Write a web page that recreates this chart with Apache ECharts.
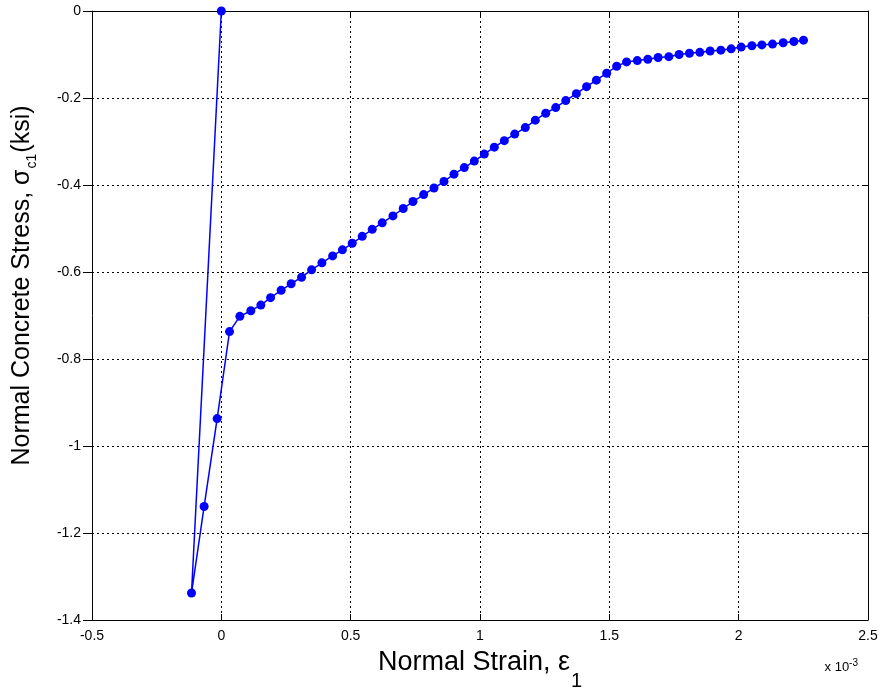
<!DOCTYPE html>
<html>
<head>
<meta charset="utf-8">
<script src="https://cdn.jsdelivr.net/npm/echarts@6/dist/echarts.min.js"></script>
<style>
  html, body { margin: 0; padding: 0; background: #fff; }
  #chart { width: 886px; height: 692px; }
</style>
</head>
<body>
<div id="chart"></div>
<script>
// Normal strain (x 10^-3) and the matching concrete stress (ksi)
const strain = [
  0, -0.1153, -0.0665, -0.0162, 0.0317, 0.0716, 0.1141, 0.1528, 0.1903, 0.2313,
  0.2700, 0.3102, 0.3489, 0.3888, 0.4302, 0.4681, 0.5060, 0.5447, 0.5834, 0.6220,
  0.6634, 0.7033, 0.7408, 0.7822, 0.8221, 0.8607, 0.8994, 0.9393, 0.9780, 1.0166,
  1.0553, 1.0940, 1.1342, 1.1752, 1.2139, 1.2541, 1.2928, 1.3315, 1.3725, 1.4120,
  1.4499, 1.4898, 1.5284, 1.5667, 1.6081, 1.6487, 1.6886, 1.7300, 1.7698, 1.8097,
  1.8499, 1.8897, 1.9311, 1.9710, 2.0097, 2.0511, 2.0897, 2.1308, 2.1721, 2.2135,
  2.2507
];
const stress = [
  0, -1.338, -1.139, -0.937, -0.737, -0.702, -0.689, -0.676, -0.659, -0.642,
  -0.627, -0.612, -0.595, -0.579, -0.563, -0.549, -0.534, -0.518, -0.502, -0.487,
  -0.471, -0.454, -0.438, -0.422, -0.407, -0.392, -0.375, -0.360, -0.345, -0.329,
  -0.313, -0.298, -0.283, -0.268, -0.251, -0.235, -0.222, -0.206, -0.190, -0.174,
  -0.159, -0.143, -0.127, -0.117, -0.114, -0.111, -0.107, -0.105, -0.100, -0.097,
  -0.095, -0.092, -0.090, -0.087, -0.083, -0.080, -0.078, -0.076, -0.073, -0.070,
  -0.067
];
const xTicks = { min: -0.5, max: 2.5, step: 0.5 };
const yTicks = { min: -1.4, max: 0, step: 0.2 };

const points = strain.map((s, i) => [s, stress[i]]);
const fmt = v => String(+v.toFixed(1));
const font = '"Liberation Sans", Arial, sans-serif';

const gridLine = { show: true, lineStyle: { color: '#000', type: [2, 3], width: 1 } };
const tickIn = { show: true, inside: true, length: 6, lineStyle: { color: '#000', width: 1 } };
const tickOut = { show: true, inside: false, length: 9, lineStyle: { color: '#000', width: 1 } };
const frameLine = { show: true, onZero: false, lineStyle: { color: '#000', width: 1 } };

// main title text sits at the top of its line, the subscript at the bottom
const mainRich = size => ({ fontFamily: font, fontSize: size, color: '#000', verticalAlign: 'top', height: size + 3, lineHeight: size + 3 });

const chart = echarts.init(document.getElementById('chart'), null, { renderer: 'canvas' });
chart.setOption({
  animation: false,
  backgroundColor: '#fff',
  grid: { left: 92, right: 18, top: 11, bottom: 72, outerBoundsMode: 'none', containLabel: false },
  xAxis: [{
    type: 'value', min: xTicks.min, max: xTicks.max, interval: xTicks.step,
    axisLine: frameLine,
    axisTick: tickIn,
    splitLine: gridLine,
    axisLabel: { color: '#000', fontFamily: font, fontSize: 14, margin: 9, formatter: fmt },
    name: '{a|Normal Strain, ε}{s|1}',
    nameLocation: 'middle', nameGap: 28, nameMoveOverlap: false,
    nameTextStyle: {
      rich: {
        a: mainRich(27),
        s: { fontFamily: font, fontSize: 20, color: '#000', verticalAlign: 'bottom', height: 20, padding: [23, 0, 0, 1] }
      }
    }
  }, {
    type: 'value', position: 'top', min: xTicks.min, max: xTicks.max, interval: xTicks.step,
    axisLine: frameLine,
    axisTick: tickIn, axisLabel: { show: false }, splitLine: { show: false }
  }],
  yAxis: [{
    type: 'value', min: yTicks.min, max: yTicks.max, interval: yTicks.step,
    axisLine: frameLine,
    axisTick: tickOut,
    splitLine: gridLine,
    axisLabel: { color: '#000', fontFamily: font, fontSize: 14, margin: 11, formatter: fmt },
    name: '{a|Normal Concrete Stress, σ}{s|c1}{a|(ksi)}',
    nameLocation: 'middle', nameRotate: 90, nameGap: 53, nameMoveOverlap: false,
    nameTextStyle: {
      padding: [0, 0, 0, 60],
      rich: {
        a: mainRich(25),
        s: { fontFamily: font, fontSize: 14, color: '#000', verticalAlign: 'bottom', height: 14, padding: [17, 1, 0, 1] }
      }
    }
  }, {
    type: 'value', position: 'right', min: yTicks.min, max: yTicks.max, interval: yTicks.step,
    axisLine: frameLine,
    axisTick: tickIn, axisLabel: { show: false }, splitLine: { show: false }
  }],
  graphic: [{
    type: 'text', right: 28, bottom: 18,
    style: { text: 'x 10{e|-3}', fill: '#000', font: '13px ' + font,
      rich: { e: { fontSize: 10, fontFamily: font, verticalAlign: 'top', padding: [0, 0, 8, 0] } } }
  }],
  series: [{
    type: 'line', data: points,
    xAxisIndex: 0, yAxisIndex: 0,
    symbol: 'circle', symbolSize: 9, showSymbol: true,
    itemStyle: { color: '#0000ff' },
    lineStyle: { color: '#0000ff', width: 1.5 },
    clip: false
  }]
});
</script>
</body>
</html>
